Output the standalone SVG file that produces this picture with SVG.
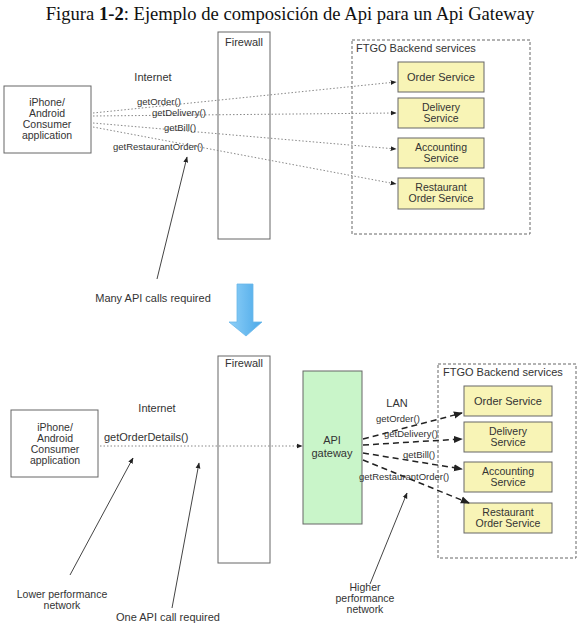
<svg xmlns="http://www.w3.org/2000/svg" width="580" height="625" viewBox="0 0 580 625">
<style>
text{font-family:"Liberation Sans",Arial,sans-serif;fill:#333;}
.t{font-size:11px;}
.l{font-size:10.5px;}
.m{font-size:9.5px;}
.c{text-anchor:middle;}
.box{fill:#fff;stroke:#666;stroke-width:1;}
.svc{fill:#f8f4b6;stroke:#666;stroke-width:1;}
.grp{fill:none;stroke:#666;stroke-width:1;stroke-dasharray:3 2;}
.dot{fill:none;stroke:#888;stroke-width:1;stroke-dasharray:1.5 2;}
.dash{fill:none;stroke:#222;stroke-width:1.5;stroke-dasharray:6 4;}
.ptr{fill:none;stroke:#444;stroke-width:1;}
</style>
<defs>
<marker id="ah" viewBox="0 0 10 10" refX="9" refY="5" markerWidth="6" markerHeight="6" orient="auto" markerUnits="userSpaceOnUse"><path d="M0,1 L10,5 L0,9 z" fill="#222"/></marker>
<marker id="ahb" viewBox="0 0 10 10" refX="9" refY="5" markerWidth="9" markerHeight="9" orient="auto" markerUnits="userSpaceOnUse"><path d="M0,1 L10,5 L0,9 z" fill="#222"/></marker>
<linearGradient id="blue" x1="0" y1="0" x2="1" y2="0"><stop offset="0" stop-color="#8fd0f8"/><stop offset="1" stop-color="#4aa8e8"/></linearGradient>
</defs>

<text x="290" y="20" style="font-family:'Liberation Serif','Times New Roman',serif;font-size:18.6px;fill:#111" text-anchor="middle">Figura <tspan font-weight="bold">1-2</tspan>: Ejemplo de composición de Api para un Api Gateway</text>

<!-- TOP -->
<g id="firewall1"><rect class="box" x="218" y="32" width="52" height="207"/><text class="t c" x="244" y="46">Firewall</text></g>
<g id="client1"><rect class="box" x="4" y="86" width="87" height="67"/>
<text class="l c" x="47" y="106">iPhone/</text><text class="l c" x="47" y="117">Android</text><text class="l c" x="47" y="128">Consumer</text><text class="l c" x="47" y="139">application</text></g>
<text class="t c" x="153" y="81">Internet</text>
<g id="ftgo1"><rect class="grp" x="352" y="40" width="178" height="194"/><text class="t" x="356" y="52">FTGO Backend services</text>
<g id="order1"><rect class="svc" x="398" y="62" width="86" height="30"/><text class="t c" x="441" y="81">Order Service</text></g>
<g id="delivery1"><rect class="svc" x="398" y="98" width="86" height="30"/><text class="l c" x="441" y="110.5">Delivery</text><text class="l c" x="441" y="121.5">Service</text></g>
<g id="accounting1"><rect class="svc" x="398" y="138" width="86" height="30"/><text class="l c" x="441" y="150.5">Accounting</text><text class="l c" x="441" y="161.5">Service</text></g>
<g id="restaurant1"><rect class="svc" x="398" y="178" width="86" height="31"/><text class="l c" x="441" y="190.5">Restaurant</text><text class="l c" x="441" y="201.5">Order Service</text></g>
</g>
<g id="connectors1">
<line class="dot" x1="93" y1="113" x2="396" y2="82" marker-end="url(#ah)"/>
<line class="dot" x1="93" y1="116" x2="396" y2="113" marker-end="url(#ah)"/>
<line class="dot" x1="93" y1="123" x2="396" y2="149" marker-end="url(#ah)"/>
<line class="dot" x1="93" y1="127" x2="396" y2="184" marker-end="url(#ah)"/>
<line class="ptr" x1="157" y1="279" x2="187" y2="157" marker-end="url(#ah)"/>
</g>
<text class="m" x="137" y="105">getOrder()</text>
<text class="m" x="152" y="115.5">getDelivery()</text>
<text class="m" x="164" y="131">getBill()</text>
<text class="m" x="113" y="150">getRestaurantOrder()</text>
<text class="t c" x="153" y="302">Many API calls required</text>

<g id="bigarrow"><path d="M237,284 H253 V322 H262 L246,336 L229,322 H237 Z" fill="url(#blue)" stroke="#6bb8ea" stroke-width="0.8"/></g>

<!-- BOTTOM -->
<g id="firewall2"><rect class="box" x="218" y="356" width="52" height="207"/><text class="t c" x="244" y="367">Firewall</text></g>
<g id="client2"><rect class="box" x="11" y="410" width="87" height="67"/>
<text class="l c" x="55" y="431">iPhone/</text><text class="l c" x="55" y="442">Android</text><text class="l c" x="55" y="453">Consumer</text><text class="l c" x="55" y="464">application</text></g>
<text class="t c" x="157" y="412">Internet</text>
<text style="font-size:11px" x="104" y="441">getOrderDetails()</text>
<g id="gateway"><rect x="303" y="371" width="59" height="153" fill="#c9f5c9" stroke="#666"/><text class="t c" x="332" y="444">API</text><text class="t c" x="332" y="457">gateway</text></g>
<text class="t c" x="397" y="407">LAN</text>
<g id="ftgo2"><rect class="grp" x="438" y="364" width="138" height="194"/><text class="t" x="443" y="376">FTGO Backend services</text>
<g id="order2"><rect class="svc" x="464" y="386" width="88" height="30"/><text class="t c" x="508" y="405">Order Service</text></g>
<g id="delivery2"><rect class="svc" x="464" y="422" width="88" height="30"/><text class="l c" x="508" y="434.5">Delivery</text><text class="l c" x="508" y="445.5">Service</text></g>
<g id="accounting2"><rect class="svc" x="464" y="462" width="88" height="30"/><text class="l c" x="508" y="474.5">Accounting</text><text class="l c" x="508" y="485.5">Service</text></g>
<g id="restaurant2"><rect class="svc" x="464" y="503" width="88" height="30"/><text class="l c" x="508" y="515.5">Restaurant</text><text class="l c" x="508" y="526.5">Order Service</text></g>
</g>
<g id="connectors2">
<line class="dot" x1="100" y1="446" x2="302" y2="446" marker-end="url(#ah)"/>
<line class="dash" x1="363" y1="439" x2="462" y2="413" marker-end="url(#ahb)"/>
<line class="dash" x1="363" y1="445" x2="462" y2="439" marker-end="url(#ahb)"/>
<line class="dash" x1="363" y1="453" x2="462" y2="469" marker-end="url(#ahb)"/>
<line class="dash" x1="363" y1="460" x2="469" y2="503" marker-end="url(#ahb)"/>
<line class="ptr" x1="70" y1="575" x2="133" y2="458" marker-end="url(#ah)"/>
<line class="ptr" x1="172" y1="608" x2="199" y2="463" marker-end="url(#ah)"/>
<line class="ptr" x1="370" y1="584" x2="407" y2="493" marker-end="url(#ah)"/>
</g>
<text class="m" x="376" y="422">getOrder()</text>
<text class="m" x="384" y="437">getDelivery()</text>
<text class="m" x="403" y="458">getBill()</text>
<text class="m" x="359" y="480">getRestaurantOrder()</text>
<text class="l c" x="62" y="598">Lower performance</text>
<text class="l c" x="62" y="609">network</text>
<text class="t c" x="168" y="621">One API call required</text>
<text class="l c" x="365" y="591">Higher</text>
<text class="l c" x="365" y="602">performance</text>
<text class="l c" x="365" y="613">network</text>
</svg>
